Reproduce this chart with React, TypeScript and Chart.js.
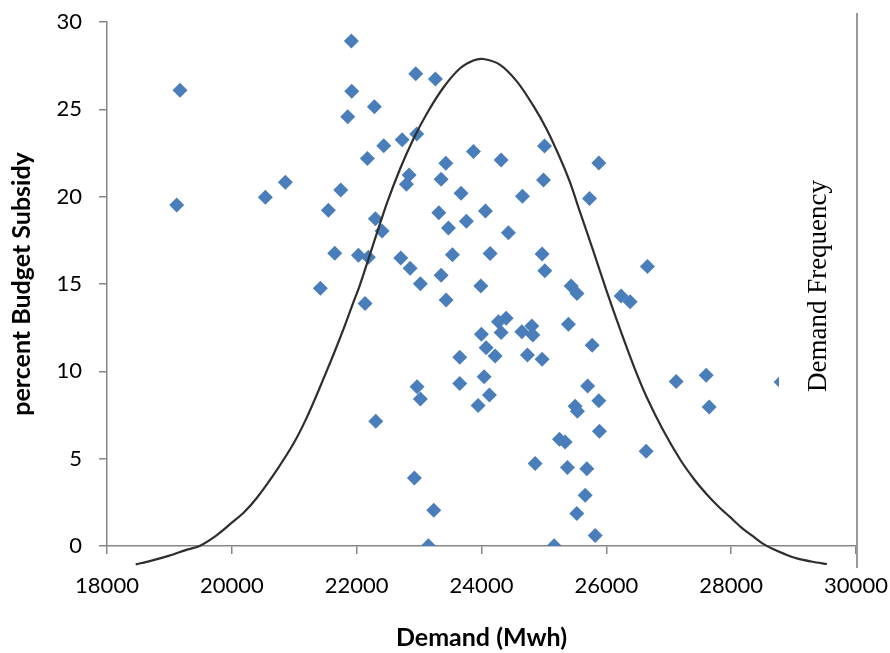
import { useEffect, useRef } from 'react';
import { Chart, registerables } from 'chart.js';

Chart.register(...registerables);

// Scatter: demand (Mwh) vs percent budget subsidy
const demand = [
  19170, 19117, 20537, 20858, 21419, 21547, 21649, 21745, 21857, 21915,
  21921, 22028, 22135, 22172, 22188, 22284, 22300, 22306, 22407, 22434,
  22706, 22728, 22797, 22840, 22856, 22925, 22947, 22963, 22968, 23021,
  23021, 23149, 23235, 23262, 23316, 23353, 23353, 23428, 23433, 23470,
  23534, 23652, 23652, 23673, 23758, 23871, 23946, 23989, 23998, 24042,
  24063, 24074, 24127, 24138, 24218, 24271, 24314, 24314, 24395, 24431,
  24646, 24656, 24736, 24806, 24822, 24859, 24971, 24971, 24993, 25009,
  25014, 25164, 25250, 25340, 25377, 25393, 25436, 25530, 25500, 25537,
  25527, 25661, 25687, 25700, 25730, 25773, 25821, 25880, 25880, 25890,
  26237, 26381, 26638, 26659, 27119, 27600, 27648, 28800,
];
const subsidy = [
  26.09, 19.52, 19.96, 20.82, 14.75, 19.22, 16.76, 20.38, 24.58, 28.91,
  26.03, 16.64, 13.89, 22.19, 16.53, 25.15, 18.74, 7.14, 18.03, 22.92,
  16.49, 23.26, 20.71, 21.24, 15.90, 3.89, 27.04, 23.59, 9.12, 15.02,
  8.42, 0.02, 2.04, 26.74, 19.08, 20.99, 15.50, 21.91, 14.08, 18.21,
  16.68, 10.80, 9.31, 20.19, 18.59, 22.59, 8.05, 14.88, 12.12, 9.69,
  19.18, 11.35, 8.64, 16.75, 10.88, 12.84, 22.10, 12.23, 13.04, 17.94,
  12.27, 20.02, 10.94, 12.60, 12.08, 4.73, 16.72, 10.69, 20.95, 22.90,
  15.76, 0.02, 6.11, 5.95, 4.50, 12.69, 14.88, 14.45, 8.00, 7.72,
  1.86, 2.90, 4.42, 9.16, 19.89, 11.50, 0.60, 21.93, 8.31, 6.57,
  14.32, 13.98, 5.43, 16.00, 9.42, 9.78, 7.96, 9.39,
];

// Demand frequency curve (secondary axis, same visual scale)
const curveDemand = [
  18460, 18700, 19000, 19250, 19490, 19750, 19971, 20200, 20399, 20720,
  20986, 21200, 21413, 21627, 21787, 21947, 22043, 22268, 22482, 22696,
  22909, 23123, 23390, 23657, 23870, 24031, 24298, 24566, 24832, 25046,
  25260, 25420, 25580, 25800, 26000, 26221, 26450, 26649, 26900, 27183,
  27400, 27611, 27800, 27984, 28150, 28358, 28500, 28679, 28850, 29053,
  29300, 29533,
];
const curveFreq = [
  -1.05, -0.85, -0.55, -0.25, 0.02, 0.6, 1.25, 1.95, 2.75, 4.35,
  5.85, 7.35, 9.1, 10.95, 12.4, 13.95, 14.85, 17.3, 19.6, 21.6,
  23.3, 24.75, 26.25, 27.35, 27.8, 27.88, 27.55, 26.6, 25.2, 23.85,
  22.2, 20.8, 19.1, 16.8, 14.65, 12.4, 10.2, 8.5, 6.7, 4.95,
  3.85, 2.95, 2.25, 1.65, 1.1, 0.53, 0.15, -0.19, -0.45, -0.71,
  -0.9, -1.03,
];

const xTicks = [18000, 20000, 22000, 24000, 26000, 28000, 30000];
const yTicks = [0, 5, 10, 15, 20, 25, 30];

const xTitle = 'Demand (Mwh)';
const yTitle = 'percent Budget Subsidy';
const y2Title = 'Demand Frequency';

const AXIS_GRAY = '#868686';

const overlayPlugin = {
  id: 'overlay',
  afterDraw(chart: any) {
    const { ctx, chartArea } = chart;
    ctx.save();
    // secondary axis line (extends a bit beyond the plot area)
    ctx.strokeStyle = '#9a9a9a';
    ctx.lineWidth = 2;
    ctx.beginPath();
    ctx.moveTo(chartArea.right + 1, chartArea.top - 9);
    ctx.lineTo(chartArea.right + 1, chartArea.bottom + 22);
    ctx.stroke();
    // secondary axis title with white box
    const cx = chartArea.right - 30;
    const cy = chartArea.top + 264;
    ctx.fillStyle = '#ffffff';
    ctx.fillRect(chartArea.right - 77, cy - 118, 72, 236);
    ctx.translate(cx, cy);
    ctx.rotate(-Math.PI / 2);
    ctx.fillStyle = '#000000';
    ctx.font = '27px "Liberation Serif", "DejaVu Serif", serif';
    ctx.textAlign = 'center';
    ctx.textBaseline = 'alphabetic';
    ctx.fillText(y2Title, 0, 0);
    ctx.restore();
  },
};

export default function App() {
  const ref = useRef<HTMLCanvasElement | null>(null);

  useEffect(() => {
    if (!ref.current) return;
    const tickFont = { family: 'Lato, "Open Sans", sans-serif', size: 22 };
    const titleFont = { family: 'Lato, "Open Sans", sans-serif', size: 25, weight: 'bold' as const };
    const chart = new Chart(ref.current, {
      type: 'scatter',
      data: {
        datasets: [
          {
            type: 'line',
            label: y2Title,
            data: curveDemand.map((x, i) => ({ x, y: curveFreq[i] })),
            yAxisID: 'y2',
            borderColor: '#2e2e2e',
            borderWidth: 2.2,
            pointRadius: 0,
            tension: 0.3,
            capBezierPoints: false,
            clip: false,
            fill: false,
          } as any,
          {
            type: 'scatter',
            label: yTitle,
            data: demand.map((x, i) => ({ x, y: subsidy[i] })),
            yAxisID: 'y',
            pointStyle: 'rectRot',
            pointRadius: 7.5,
            pointHoverRadius: 7.5,
            backgroundColor: '#4a7ebb',
            borderWidth: 0,
          } as any,
        ],
      },
      options: {
        responsive: false,
        animation: false,
        events: [],
        layout: { padding: { left: 0, top: 22, right: 34, bottom: 0 } },
        plugins: { legend: { display: false }, tooltip: { enabled: false } },
        scales: {
          x: {
            type: 'linear',
            min: 18000,
            max: 30000,
            afterBuildTicks: (s: any) => {
              s.ticks = xTicks.map((v) => ({ value: v }));
            },
            afterFit: (s: any) => {
              s.height = 107;
              s.paddingLeft = 0;
              s.paddingRight = 0;
            },
            ticks: {
              font: tickFont,
              color: '#000',
              padding: 19,
              maxRotation: 0,
              autoSkip: false,
              callback: (v: any) => String(v),
            },
            grid: { drawOnChartArea: false, drawTicks: true, tickLength: 8, color: AXIS_GRAY, lineWidth: 1.5 },
            border: { display: true, color: AXIS_GRAY, width: 1.5 },
            title: { display: true, text: xTitle, font: titleFont, color: '#000', padding: { top: 0, bottom: 0 } },
          },
          y: {
            type: 'linear',
            min: 0,
            max: 30,
            afterBuildTicks: (s: any) => {
              s.ticks = yTicks.map((v) => ({ value: v }));
            },
            afterFit: (s: any) => {
              s.width = 107;
              s.paddingTop = 0;
              s.paddingBottom = 0;
            },
            ticks: { font: tickFont, color: '#000', padding: 17, autoSkip: false, callback: (v: any) => String(v) },
            grid: { drawOnChartArea: false, drawTicks: true, tickLength: 8, color: AXIS_GRAY, lineWidth: 1.5 },
            border: { display: true, color: AXIS_GRAY, width: 1.5 },
            title: { display: true, text: yTitle, font: titleFont, color: '#000', padding: { top: 7, bottom: 0 } },
          },
          y2: {
            type: 'linear',
            display: false,
            min: 0,
            max: 30,
          },
        },
      },
      plugins: [overlayPlugin],
    } as any);
    return () => chart.destroy();
  }, []);

  return (
    <div style={{ position: 'fixed', left: 0, top: 0, width: 890, height: 653, background: '#fff' }}>
      <canvas ref={ref} width={890} height={653} style={{ display: 'block' }} />
    </div>
  );
}
